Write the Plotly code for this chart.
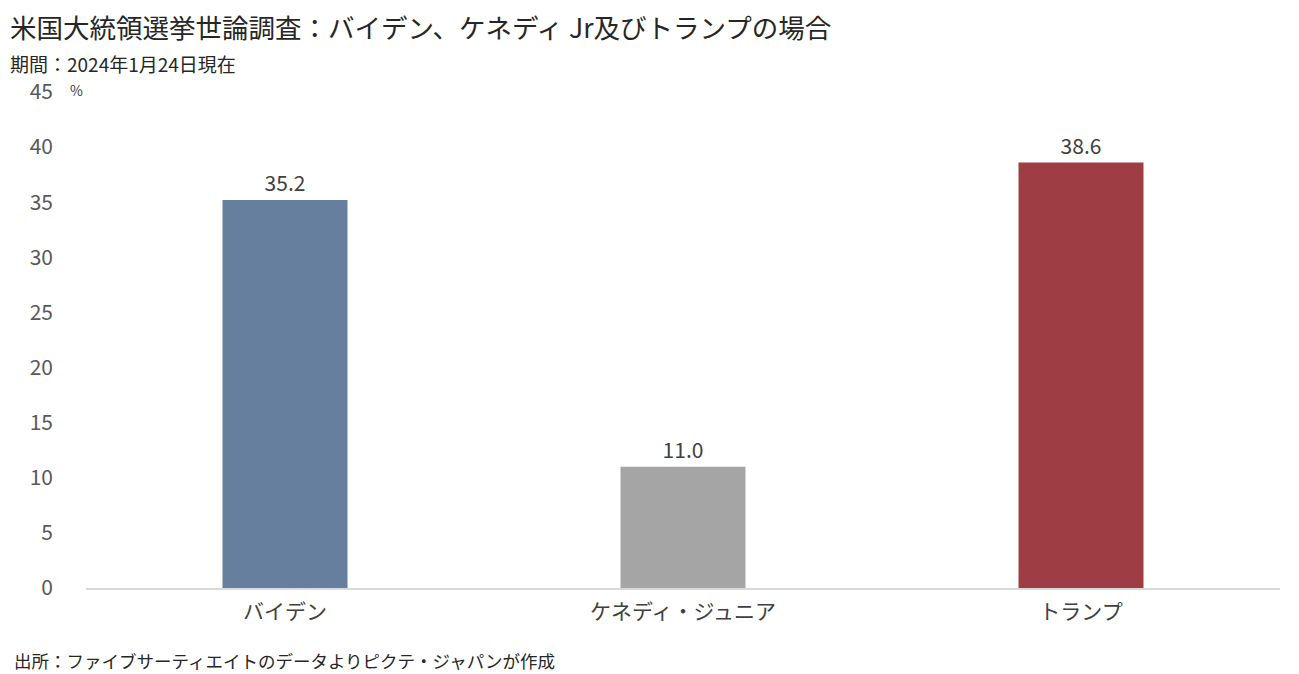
import plotly.graph_objects as go

categories = ["バイデン", "ケネディ・ジュニア", "トランプ"]
values = [35.2, 11.0, 38.6]
colors = ["#667F9F", "#A5A5A5", "#9E3D43"]
y_ticks = [0, 5, 10, 15, 20, 25, 30, 35, 40, 45]

FONT = "Noto Sans CJK JP"

W, H = 1299, 674
l, r, t, b = 86, 19, 92, 86
pw, ph = W - l - r, H - t - b


def px(x, y):
    return (x - l) / pw, (H - b - y) / ph


fig = go.Figure()
fig.add_trace(go.Bar(
    x=categories, y=values, marker=dict(color=colors, line=dict(width=0)),
    text=[f"{v:.1f}" for v in values], textposition="outside",
    textfont=dict(size=21, color="#404040", family=FONT),
    cliponaxis=False, width=0.314,
))

anns = []
for text, x, y, size, color in [
    ("米国大統領選挙世論調査：バイデン、ケネディ Jr及びトランプの場合", 8, 26, 26.5, "#262626"),
    ("期間：2024年1月24日現在", 8, 63, 19, "#262626"),
    ("%", 68, 90, 14, "#404040"),
    ("出所：ファイブサーティエイトのデータよりピクテ・ジャパンが作成", 12, 660, 17.5, "#262626"),
]:
    xx, yy = px(x, y)
    anns.append(dict(text=text, x=xx, y=yy, xref="paper", yref="paper",
                     showarrow=False, xanchor="left", yanchor="middle",
                     font=dict(size=size, color=color, family=FONT)))

fig.update_layout(
    width=W, height=H,
    margin=dict(l=l, r=r, t=t, b=b),
    paper_bgcolor="white", plot_bgcolor="white",
    showlegend=False,
    font=dict(family=FONT, color="#595959"),
    xaxis=dict(showgrid=False, showline=True, linecolor="#D9D9D9", linewidth=1.5,
               tickfont=dict(size=21, color="#404040", family=FONT), ticks="",
               ticklabelstandoff=4),
    yaxis=dict(range=[0, 45], tickvals=y_ticks, showgrid=False, zeroline=False,
               showline=False, tickfont=dict(size=21, color="#595959", family=FONT),
               ticklabelstandoff=32),
    annotations=anns,
)

fig.write_html("out.html", config={"displayModeBar": False},
               post_script="document.body.style.margin='0';document.body.style.overflow='hidden';")
